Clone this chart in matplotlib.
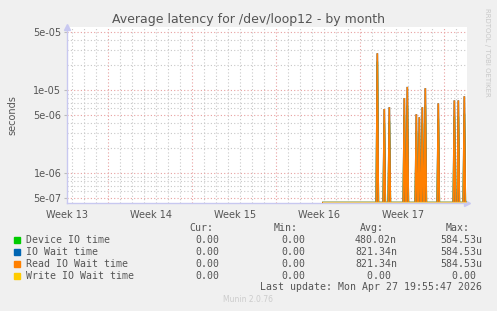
import matplotlib
matplotlib.use("Agg")
import matplotlib.pyplot as plt
from matplotlib.ticker import FixedLocator, NullFormatter
import numpy as np

# ---- data (days from left edge of the month view) ----
data_start = 21.33
data_end = 33.33
spike_days = [25.86, 26.44, 26.86, 28.11, 28.36, 29.11, 29.36, 29.61, 29.86, 30.94, 32.28, 32.61, 33.11]
read_wait = [2.77e-5, 5.9e-6, 6.2e-6, 8.0e-6, 1.09e-5, 5.1e-6, 4.7e-6, 6.2e-6, 1.05e-5, 6.9e-6, 7.5e-6, 7.5e-6, 8.4e-6]
io_wait = [2.77e-5, 5.9e-6, 6.2e-6, 8.0e-6, 1.09e-5, 5.1e-6, 4.7e-6, 6.2e-6, 1.05e-5, 6.9e-6, 7.5e-6, 7.5e-6, 8.4e-6]
device_io = [2.2e-5, 4.0e-6, 4.2e-6, 5.0e-6, 6.5e-6, 3.2e-6, 3.0e-6, 4.0e-6, 6.5e-6, 4.5e-6, 4.8e-6, 4.8e-6, 5.2e-6]
write_wait = [0.0] * len(spike_days)

week_labels = ["Week 13", "Week 14", "Week 15", "Week 16", "Week 17"]
week_label_days = [0.0, 7.0, 14.0, 21.0, 28.0]
y_tick_values = [5e-7, 1e-6, 5e-6, 1e-5, 5e-5]
y_tick_labels = ["5e-07", "1e-06", "5e-06", "1e-05", "5e-05"]

legend_names = ["Device IO time", "IO Wait time", "Read IO Wait time", "Write IO Wait time"]
legend_colors = ["#00CC00", "#0066B3", "#FF8000", "#FFCC00"]
cur_vals = ["0.00", "0.00", "0.00", "0.00"]
min_vals = ["0.00", "0.00", "0.00", "0.00"]
avg_vals = ["480.02n", "821.34n", "821.34n", "0.00 "]
max_vals = ["584.53u", "584.53u", "584.53u", "0.00 "]

# ---- figure ----
W, H = 497, 311
fig = plt.figure(figsize=(W / 100, H / 100), dpi=100, facecolor="#F0F0F0")
L, R, T, B = 67, 467, 27, 203
ax = fig.add_axes([L / W, 1 - B / H, (R - L) / W, (B - T) / H])
ax.set_facecolor("white")

x_max = 400 / 12.0
ymin, ymax = 4.35e-7, 5.74e-5
ax.set_xlim(0, x_max)
ax.set_yscale("log")
ax.set_ylim(ymin, ymax)

# gridlines
red = "#E8A0A0"
gray = "#C8C8C8"
week_lines = [3.45 + 7 * k for k in range(5)]
day_lines = [0.45 + k for k in range(34) if 0.45 + k < x_max]
for d in day_lines:
    if min(abs(d - w) for w in week_lines) > 0.1:
        ax.axvline(d, color=gray, lw=0.8, ls=(0, (1, 2)), zorder=0)
for w in week_lines:
    if w < x_max:
        ax.axvline(w, color=red, lw=0.8, ls=(0, (1, 2)), zorder=0)
minor_y = []
for e in (-7, -6, -5):
    for m in (2, 3, 4, 6, 7, 8, 9):
        v = m * 10.0 ** e
        if ymin < v < ymax:
            minor_y.append(v)
for v in minor_y:
    ax.axhline(v, color=gray, lw=0.8, ls=(0, (1, 2)), zorder=0)
for v in [5e-7, 1e-6, 5e-6, 1e-5, 5e-5]:
    ax.axhline(v, color=red, lw=0.8, ls=(0, (1, 2)), zorder=0)

# series
dt = 1 / 12.0
def series(vals):
    xs = [data_start]
    ys = [0.0]
    for t, v in zip(spike_days, vals):
        xs += [t - dt, t, t + dt]
        ys += [0.0, v, 0.0]
    xs.append(data_end)
    ys.append(0.0)
    ys = np.array(ys)
    ys = np.where(ys <= 0, ymin * 1.01, ys)
    return np.array(xs), ys

for vals, col, lw in [(device_io, "#00CC00", 1.2), (io_wait, "#0066B3", 1.2),
                      (read_wait, "#FF8000", 1.2)]:
    xs, ys = series(vals)
    ax.plot(xs, ys, color=col, lw=lw, solid_joinstyle="miter", zorder=3)
xs = np.array([data_start, data_end])
ys = np.array([ymin * 1.01, ymin * 1.01])
ax.plot(xs, ys, color="#E8C878", lw=1.6, zorder=4, solid_capstyle="butt")
xs, ys = series(device_io)
ax.fill_between(xs, ymin, ys, color="#8A8A3A", alpha=0.35, lw=0, zorder=2)

# axes styling
for s in ("top", "right"):
    ax.spines[s].set_visible(False)
axis_col = "#C8C8F0"
ax.spines["left"].set_color(axis_col)
ax.spines["bottom"].set_color(axis_col)
ax.spines["left"].set_linewidth(1.0)
ax.spines["bottom"].set_linewidth(1.0)
ax.plot([0], [1.0], marker="^", color=axis_col, ms=5, transform=ax.transAxes, clip_on=False)
ax.plot([1.0], [0], marker=">", color=axis_col, ms=5, transform=ax.transAxes, clip_on=False)

ax.xaxis.set_major_locator(FixedLocator(week_label_days))
ax.set_xticklabels(week_labels)
ax.yaxis.set_major_locator(FixedLocator(y_tick_values))
ax.set_yticklabels(y_tick_labels)
ax.yaxis.set_minor_locator(FixedLocator([]))
ax.yaxis.set_minor_formatter(NullFormatter())
ax.tick_params(axis="x", length=0, pad=5, labelsize=7, labelcolor="#555555")
ax.tick_params(axis="y", length=2, color="#BBBBBB", pad=2, labelsize=7, labelcolor="#555555")

fig.text(12 / W, 1 - 115 / H, "seconds", rotation=90, ha="center", va="center",
         fontsize=7, color="#555555")
fig.text(248 / W, 1 - 19 / H, "Average latency for /dev/loop12 - by month", ha="center",
         va="center", fontsize=9, color="#555555")
fig.text(487 / W, 1 - 52 / H, "RRDTOOL / TOBI OETIKER", rotation=270, ha="center",
         va="center", fontsize=5, color="#C8C8C8")

# legend
mono = "DejaVu Sans Mono"
fs = 7.1
tc = "#555555"
hy = 228
fig.text(213 / W, 1 - hy / H, "Cur:", ha="right", va="center", family=mono, fontsize=fs, color=tc)
fig.text(298 / W, 1 - hy / H, "Min:", ha="right", va="center", family=mono, fontsize=fs, color=tc)
fig.text(384 / W, 1 - hy / H, "Avg:", ha="right", va="center", family=mono, fontsize=fs, color=tc)
fig.text(470 / W, 1 - hy / H, "Max:", ha="right", va="center", family=mono, fontsize=fs, color=tc)
rows = [240, 252, 264, 276]
for i, y in enumerate(rows):
    fy = 1 - y / H
    fig.patches.append(plt.Rectangle((14 / W, fy - 3 / H), 6 / W, 6 / H, transform=fig.transFigure,
                                     color=legend_colors[i], figure=fig))
    fig.text(26 / W, fy, legend_names[i], ha="left", va="center", family=mono, fontsize=fs, color=tc)
    fig.text(219 / W, fy, cur_vals[i], ha="right", va="center", family=mono, fontsize=fs, color=tc)
    fig.text(305 / W, fy, min_vals[i], ha="right", va="center", family=mono, fontsize=fs, color=tc)
    fig.text(397 / W, fy, avg_vals[i], ha="right", va="center", family=mono, fontsize=fs, color=tc)
    fig.text(482.5 / W, fy, max_vals[i], ha="right", va="center", family=mono, fontsize=fs, color=tc)
fig.text(482.5 / W, 1 - 287.5 / H, "Last update: Mon Apr 27 19:55:47 2026", ha="right", va="center",
         family=mono, fontsize=fs, color=tc)
fig.text(248 / W, 1 - 300 / H, "Munin 2.0.76", ha="center", va="center", fontsize=5.5, color="#CCCCCC")

fig.savefig("out.png", dpi=100, facecolor=fig.get_facecolor())
